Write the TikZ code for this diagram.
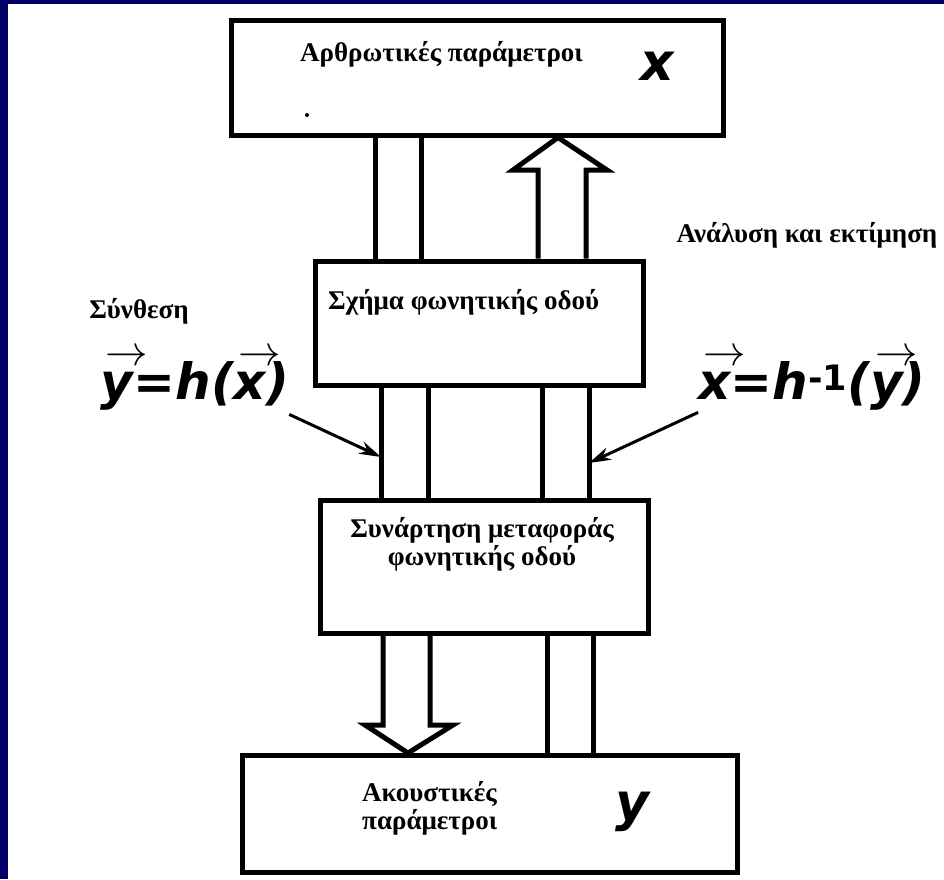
\documentclass[tikz,border=0pt]{standalone}
\usepackage{fontspec}
\setmainfont{Liberation Serif}
\newfontfamily\formfont{DejaVu Sans}
\usetikzlibrary{arrows.meta}

\definecolor{fondo}{RGB}{0,0,102}

\newcommand{\vecf}[1]{\makebox[0pt][l]{\raisebox{0.68em}{\hspace{0.1em}\resizebox{0.85em}{!}{$\rightarrow$}}}#1}

\tikzset{
  caja/.style={draw, line width=5pt, inner sep=0pt},
  linea/.style={line width=5pt},
  texto/.style={inner sep=0pt, font=\bfseries\fontsize{27}{28}\selectfont},
  formula/.style={inner sep=0pt, font=\formfont\bfseries\itshape\fontsize{50}{54}\selectfont},
  letra/.style={inner sep=0pt, font=\formfont\bfseries\itshape\fontsize{52}{56}\selectfont},
  flecha/.style={line width=3pt, -{Stealth[length=22pt, width=13pt]}}
}

\begin{document}
\begin{tikzpicture}[x=1pt,y=-1pt]

    % Fondo
    \useasboundingbox (0,0) rectangle (944,879);
    \fill[white] (0,0) rectangle (944,879);
    \fill[fondo] (0,0) rectangle (8,879);
    \fill[fondo] (0,0) rectangle (944,4);

    % Cajas
    \node[caja, minimum width=492pt, minimum height=115pt] (art) at (477,77.5) {};
    \node[caja, minimum width=328pt, minimum height=124pt] (vt) at (479,323) {};
    \node[caja, minimum width=328pt, minimum height=133pt] (tf) at (484,566.5) {};
    \node[caja, minimum width=495pt, minimum height=117pt] (ac) at (489.5,814) {};

    % Textos de las cajas
    \node[texto, anchor=west] (tart) at (300,54) {Αρθρωτικές παράμετροι};
    \node[letra] (vx) at (657,66) {x};
    \fill (307,115) circle (2pt);
    \node[texto, anchor=west] (tvt) at (328,302) {Σχήμα φωνητικής οδού};
    \node[texto, align=center] (ttf) at (482,544) {Συνάρτηση μεταφοράς\\φωνητικής οδού};
    \node[texto, align=left, anchor=west] (tac) at (362,808) {Ακουστικές\\παράμετροι};
    \node[letra] (vy) at (632,812) {y};

    % Etiquetas laterales
    \node[texto] (sin) at (139,311) {Σύνθεση};
    \node[texto] (ana) at (807,235) {Ανάλυση και εκτίμηση};
    \node[formula] (fy) at (195,380) {\vecf{y}=h(\vecf{x})};
    \node[formula] (fx) at (812,380) {\vecf{x}=h\textsuperscript{\upshape -1}(\vecf{y})};

    % Sintesis: lineas hacia abajo
    \foreach \sx in {375,421}
        \draw[linea] (\sx,0 |- art.south) -- (\sx,0 |- vt.north);
    \foreach \sx in {381,428,542,589}
        \draw[linea] (\sx,0 |- vt.south) -- (\sx,0 |- tf.north);
    \foreach \sx in {547,593}
        \draw[linea] (\sx,0 |- tf.south) -- (\sx,0 |- ac.north);

    % Flechas huecas
    \draw[linea] (538,0 |- vt.north) -- (538,170) -- (513,170)
        -- (558,0 |- art.south) -- (607,170) -- (586,170) -- (586,0 |- vt.north);
    \draw[linea] (383,0 |- tf.south) -- (383,725) -- (365,725)
        -- (408,0 |- ac.north) -- (453,725) -- (430,725) -- (430,0 |- tf.south);

    % Flechas de las formulas
    \coordinate (pl) at (381,457);
    \coordinate (pr) at (589,463);
    \draw[flecha] (fy.south east) ++(0,4) -- (pl);
    \draw[flecha] (fx.south west) ++(0,2) -- (pr);

\end{tikzpicture}
\end{document}
